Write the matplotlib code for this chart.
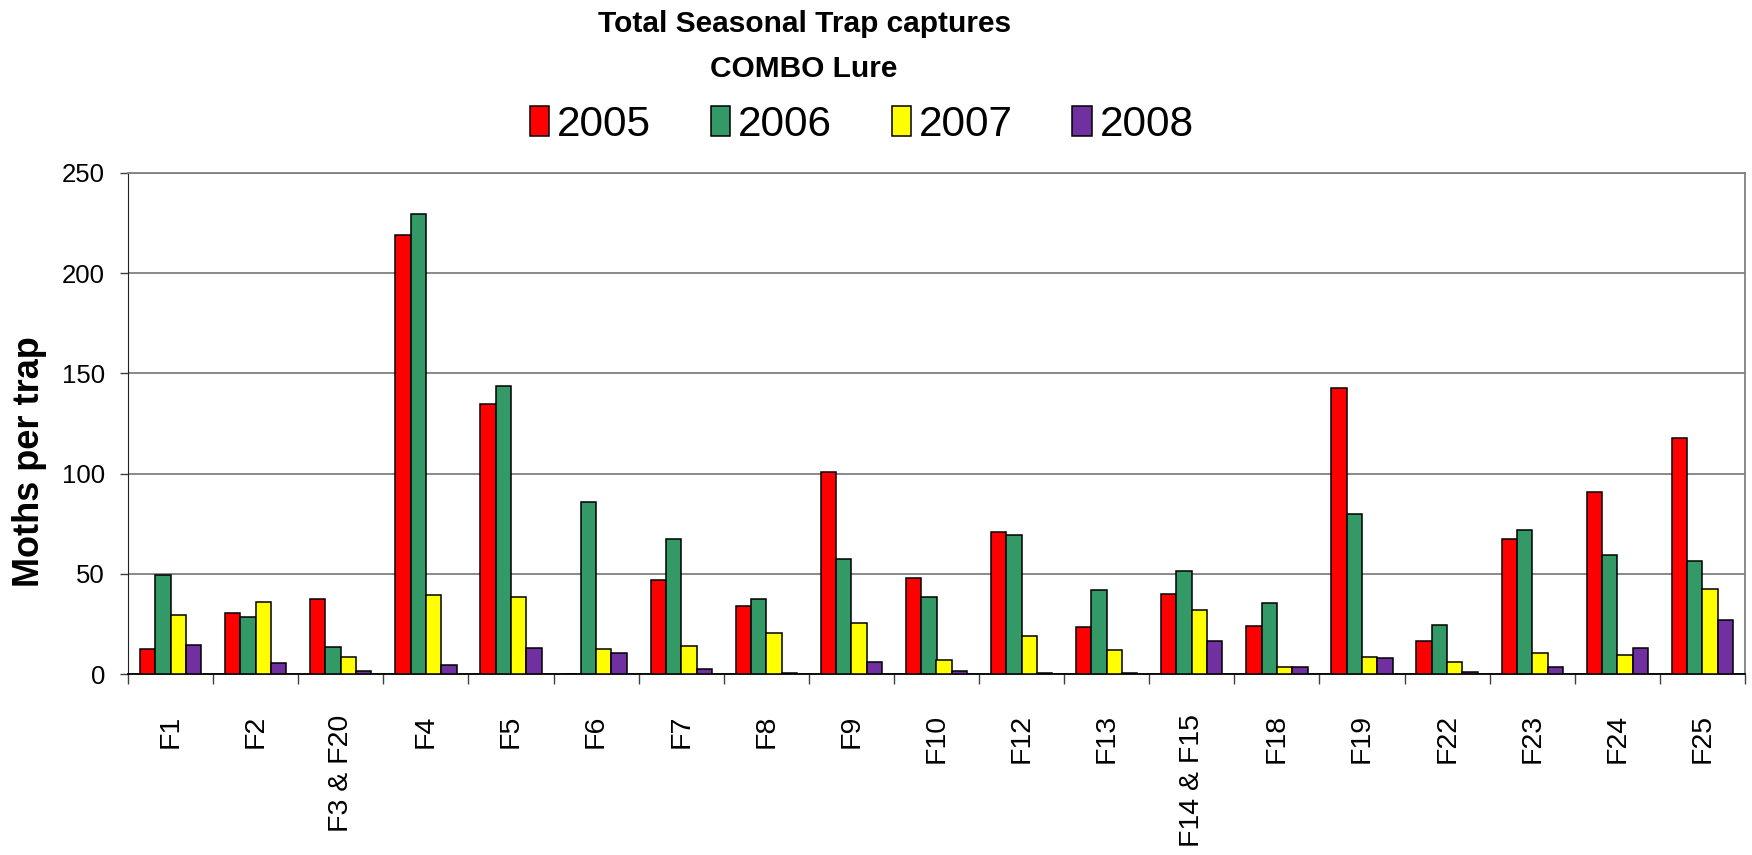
import numpy as np
import matplotlib
matplotlib.use("Agg")
import matplotlib.pyplot as plt
from matplotlib.patches import Patch

plt.rcParams["font.family"] = ["Liberation Sans", "DejaVu Sans"]

# Trap sites and yearly totals (moths per trap)
sites = ["F1", "F2", "F3 & F20", "F4", "F5", "F6", "F7", "F8", "F9", "F10",
         "F12", "F13", "F14 & F15", "F18", "F19", "F22", "F23", "F24", "F25"]
years = ["2005", "2006", "2007", "2008"]
y2005 = [12.5, 30.5, 37.5, 219, 134.5, 0, 47, 34, 101, 48,
         71, 23.5, 40, 24, 142.5, 16.5, 67.5, 91, 118]
y2006 = [49.5, 28.5, 13.5, 229.5, 143.5, 86, 67.5, 37.5, 57.5, 38.5,
         69.5, 42, 51.5, 35.5, 80, 24.5, 72, 59.5, 56.5]
y2007 = [29.5, 36, 8.5, 39.5, 38.5, 12.5, 14, 20.5, 25.5, 7,
         19, 12, 32, 3.5, 8.5, 6, 10.5, 9.5, 42.5]
y2008 = [14.5, 5.5, 1.5, 4.5, 13, 10.5, 2.5, 0.5, 6, 1.5,
         0.5, 0.3, 16.5, 3.5, 8, 1, 3.5, 13, 27]
colors = ["#FF0000", "#339966", "#FFFF00", "#7030A0"]

series = [y2005, y2006, y2007, y2008]

fig = plt.figure(figsize=(17.52, 8.55), dpi=100)
ax = fig.add_axes([128 / 1752, 1 - 674 / 855, (1745 - 128) / 1752, (674 - 173) / 855])

x = np.arange(len(sites))
bw = 0.18
for i, (vals, col) in enumerate(zip(series, colors)):
    ax.bar(x + (i - 1.5) * bw, vals, bw, color=col, edgecolor="black",
           linewidth=1.1, zorder=3)

ax.set_xlim(-0.5, len(sites) - 0.5)
ax.set_ylim(0, 250)
ax.set_yticks(np.arange(0, 251, 50))
ax.yaxis.grid(True, color="#808080", linewidth=1.3, zorder=0)

ax.set_xticks(x)
ax.set_xticklabels(sites, rotation=90, fontsize=20.5)
ax.set_xticks(np.arange(-0.5, len(sites), 1), minor=True)
ax.tick_params(axis="x", which="major", length=0, pad=29)
ax.tick_params(axis="x", which="minor", length=7, width=1, color="#404040")
ax.tick_params(axis="y", length=5.5, width=1, labelsize=18.5, pad=11, color="#404040")

for s in ["top", "right"]:
    ax.spines[s].set_color("#808080")
    ax.spines[s].set_linewidth(1.3)
ax.spines["left"].set_color("#202020")
ax.spines["bottom"].set_color("black")
ax.spines["bottom"].set_linewidth(1.3)

fig.text(30 / 1752, 1 - 462 / 855, "Moths per trap", rotation=90,
         fontsize=26, fontweight="bold", ha="center", va="center")

fig.text(0.459, 1 - 24 / 855, "Total Seasonal Trap captures",
         fontsize=21.5, fontweight="bold", ha="center", va="center")
fig.text(0.459, 1 - 69 / 855, "COMBO Lure",
         fontsize=21.5, fontweight="bold", ha="center", va="center")

handles = [Patch(facecolor=c, edgecolor="black", linewidth=1.1) for c in colors]
fig.legend(handles, years, loc="center", bbox_to_anchor=(0.492, 1 - 125 / 855),
           ncol=4, frameon=False, fontsize=30.5, handlelength=0.45,
           handleheight=0.7, handletextpad=0.2, columnspacing=1.4)

fig.savefig("out.png", dpi=100, facecolor="white")
